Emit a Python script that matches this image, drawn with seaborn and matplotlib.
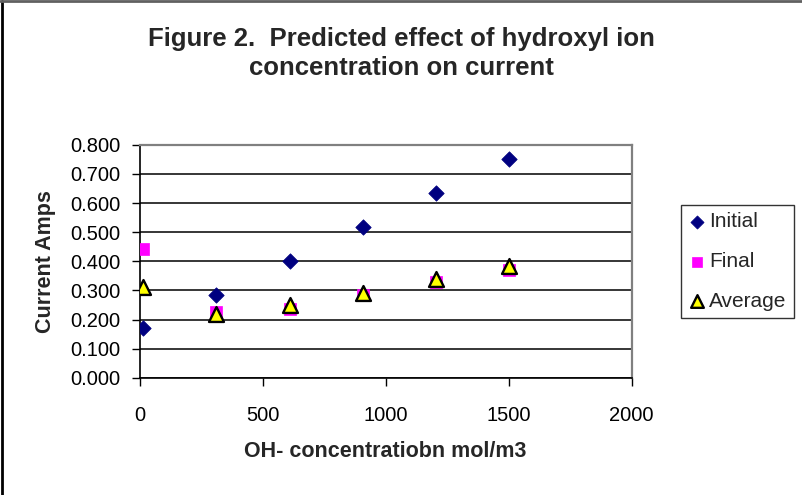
import matplotlib
matplotlib.use("Agg")
import matplotlib.pyplot as plt
import seaborn as sns
import pandas as pd
from matplotlib.lines import Line2D

# ──────────────────────────────
#  Data
# ──────────────────────────────
oh_conc = [12, 312, 610, 910, 1205, 1502]
initial = [0.170, 0.285, 0.401, 0.518, 0.635, 0.751]
final = [0.441, 0.225, 0.236, 0.285, 0.330, 0.370]
average = [0.313, 0.218, 0.250, 0.290, 0.338, 0.385]

y_ticks = [0.0, 0.1, 0.2, 0.3, 0.4, 0.5, 0.6, 0.7, 0.8]
x_ticks = [0, 500, 1000, 1500, 2000]

df = pd.DataFrame({"conc": oh_conc, "Initial": initial, "Final": final, "Average": average})

sns.set_theme(style="white")
plt.rcParams["font.family"] = ["Liberation Sans", "DejaVu Sans"]

fig = plt.figure(figsize=(8.02, 4.95), dpi=100)
ax = fig.add_axes([0.174, 0.2364, 0.6137, 0.4713])

# ──────────────────────
# Series
# ──────────────────────
sns.scatterplot(data=df, x="conc", y="Initial", ax=ax, marker="D", s=62,
                color="#000080", edgecolor="#000080", linewidth=0.5,
                label="Initial", zorder=3)
sns.scatterplot(data=df, x="conc", y="Final", ax=ax, marker="s", s=75,
                color="#FF00FF", edgecolor="#FF00FF", linewidth=0.5,
                label="Final", zorder=4)
sns.scatterplot(data=df, x="conc", y="Average", ax=ax, marker="^", s=115,
                color="#FFFF00", edgecolor="black", linewidth=1.7,
                label="Average", zorder=5)

ax.set_xlim(0, 2000)
ax.set_ylim(0, 0.8)
ax.set_xticks(x_ticks)
ax.set_yticks(y_ticks)
ax.set_xticklabels([str(t) for t in x_ticks], fontsize=14.5)
ax.set_yticklabels([f"{t:.3f}" for t in y_ticks], fontsize=14.5)
ax.tick_params(axis="both", direction="out", length=6, width=1, colors="black",
               bottom=True, left=True, pad=8)
ax.tick_params(axis="x", pad=14)

ax.yaxis.grid(True, color="black", linewidth=1.1)
ax.xaxis.grid(False)
ax.set_axisbelow(True)
for side in ["top", "right"]:
    ax.spines[side].set_color("#808080")
    ax.spines[side].set_linewidth(1.6)
for side in ["left", "bottom"]:
    ax.spines[side].set_color("black")
    ax.spines[side].set_linewidth(1.2)

ax.set_xlabel("OH- concentratiobn mol/m3", fontsize=15.5, fontweight="bold", labelpad=12)
ax.set_ylabel("Current Amps", fontsize=15.5, fontweight="bold", labelpad=10)

fig.suptitle("Figure 2.  Predicted effect of hydroxyl ion\nconcentration on current",
             fontsize=18.5, fontweight="bold", x=0.5, y=0.945, linespacing=1.25)

ax.get_legend().remove()
handles, labels = ax.get_legend_handles_labels()
leg = fig.legend(handles, labels, loc="upper left", bbox_to_anchor=(0.849, 0.586),
                 frameon=True, fancybox=False, fontsize=15, handletextpad=0.2,
                 handlelength=0.8, labelspacing=1.0, borderpad=0.35, borderaxespad=0,
                 markerscale=0.85)
leg.get_frame().set_edgecolor("black")
leg.get_frame().set_linewidth(1.0)

# chart-area border (only left and top visible in the crop)
fig.add_artist(Line2D([0.002, 0.002], [0, 0.998], transform=fig.transFigure,
                      color="black", linewidth=2))
fig.add_artist(Line2D([0, 1], [0.997, 0.997], transform=fig.transFigure,
                      color="#606060", linewidth=2))

fig.savefig("out.png", dpi=100)
